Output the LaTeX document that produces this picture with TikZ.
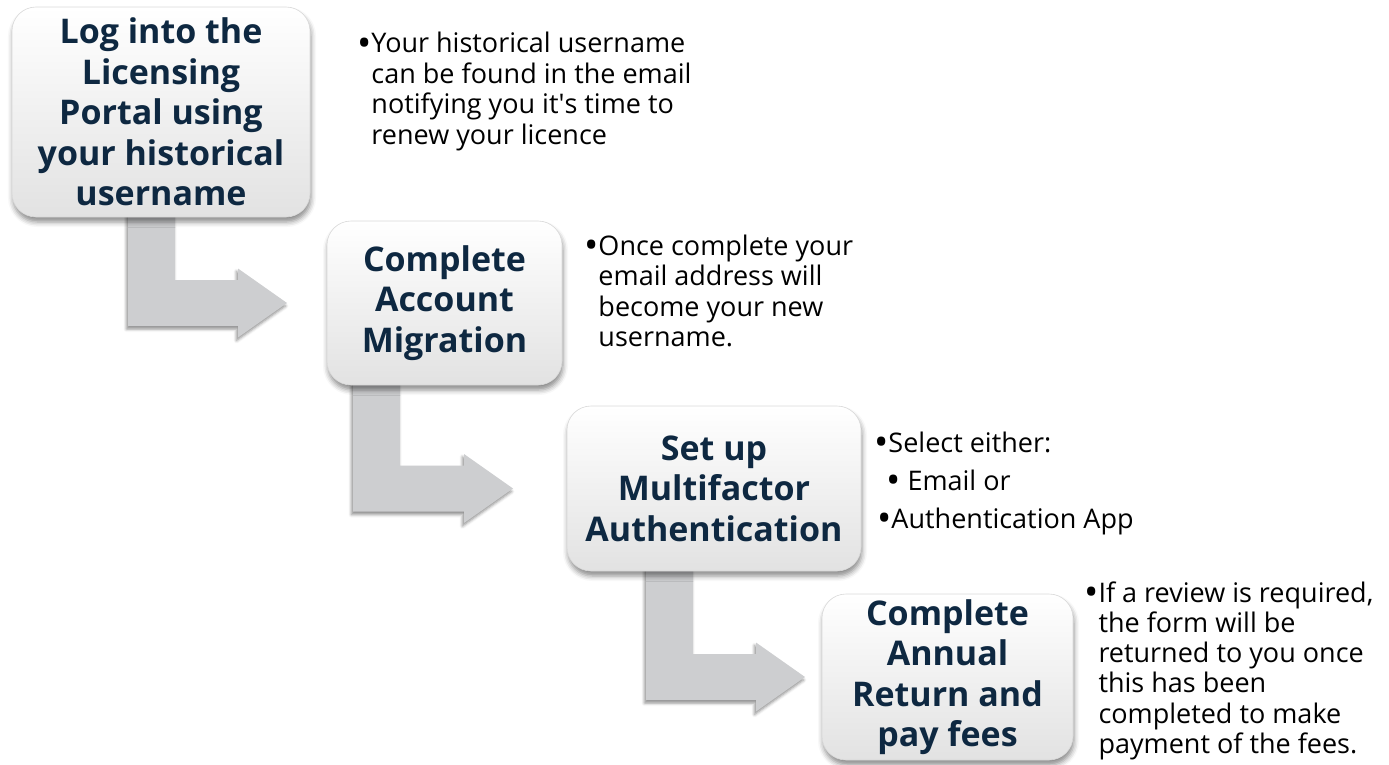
\documentclass[tikz,border=0pt]{standalone}
\usepackage{fontspec}
\setmainfont{Open Sans}
\usetikzlibrary{calc,backgrounds,shadows.blur}
\definecolor{navy}{RGB}{14,40,65}
\definecolor{arrowgrey}{RGB}{205,206,208}
\definecolor{boxgrey}{RGB}{226,226,226}
\newcommand\bulmark{\raisebox{-3.5pt}{\fontsize{38}{38}\selectfont •}}
\newcommand\bentarrow[4]{%
  \path[arrowshape] let \p1=(#1.south), \p2=(#2.west) in
    (#3pt,\y1+8pt) -- ({#3pt+47pt},\y1+8pt) -- ({#3pt+47pt},\y2+23pt)
    -- ({#4pt-49pt},\y2+23pt) -- ({#4pt-49pt},\y2+34.5pt) -- (#4pt,\y2)
    -- ({#4pt-49pt},\y2-34.5pt) -- ({#4pt-49pt},\y2-23pt) -- (#3pt,\y2-23pt) -- cycle;}
\begin{document}
\begin{tikzpicture}[x=1pt,y=-1pt,
  stepbox/.style={rounded corners=24pt, draw=black!15, line width=0.6pt,
    top color=white, middle color=white, bottom color=boxgrey,
    blur shadow={shadow xshift=1pt, shadow yshift=-5pt, shadow blur radius=5pt, shadow opacity=45},
    text=navy, align=center, inner sep=0pt,
    font=\fontsize{34}{40.5}\selectfont\bfseries},
  arrowshape/.style={fill=arrowgrey,
    blur shadow={shadow xshift=-1.5pt, shadow yshift=-3pt, shadow blur radius=3pt, shadow opacity=45}},
  bul/.style={inner sep=0pt, text=black, anchor=base west,
    font=\fontsize{27}{30.5}\selectfont}]
\useasboundingbox (0,0) rectangle (1389,765);

\node[stepbox, minimum width=298pt, minimum height=210pt] (b1) at (161,112)
  {Log into the\\Licensing\\Portal using\\your historical\\username};
\node[stepbox, minimum width=235pt, minimum height=164pt] (b2) at (444.5,303)
  {Complete\\Account\\Migration};
\node[stepbox, minimum width=294pt, minimum height=165pt] (b3) at (714,488.5)
  {Set up\\Multifactor\\Authentication};
\node[stepbox, minimum width=251pt, minimum height=166pt] (b4) at (947.5,677)
  {Complete\\Annual\\Return and\\pay fees};

\begin{pgfonlayer}{background}
\bentarrow{b1}{b2}{128}{287}
\bentarrow{b2}{b3}{353}{513}
\bentarrow{b3}{b4}{646}{805}
\end{pgfonlayer}

\node[bul] (t1) at (357,53) {\begin{tabular}[t]{@{}l@{}l@{}}\bulmark&Your historical username\\&can be found in the email\\&notifying you it\textquotesingle s time to\\&renew your licence\end{tabular}};
\node[bul] (t2) at (584,255) {\begin{tabular}[t]{@{}l@{}l@{}}\bulmark&Once complete your\\&email address will\\&become your new\\&username.\end{tabular}};
\node[bul, font=\fontsize{27}{38}\selectfont] (t3) at (874,452) {\begin{tabular}[t]{@{}l@{}}\bulmark Select either:\\\hspace*{12pt}\bulmark\ Email or\\\hspace*{3pt}\bulmark Authentication App\end{tabular}};
\node[bul, font=\fontsize{27}{30.3}\selectfont] (t4) at (1084,602) {\begin{tabular}[t]{@{}l@{}l@{}}\bulmark&If a review is required,\\&the form will be\\&returned to you once\\&this has been\\&completed to make\\&payment of the fees.\end{tabular}};
\end{tikzpicture}
\end{document}
